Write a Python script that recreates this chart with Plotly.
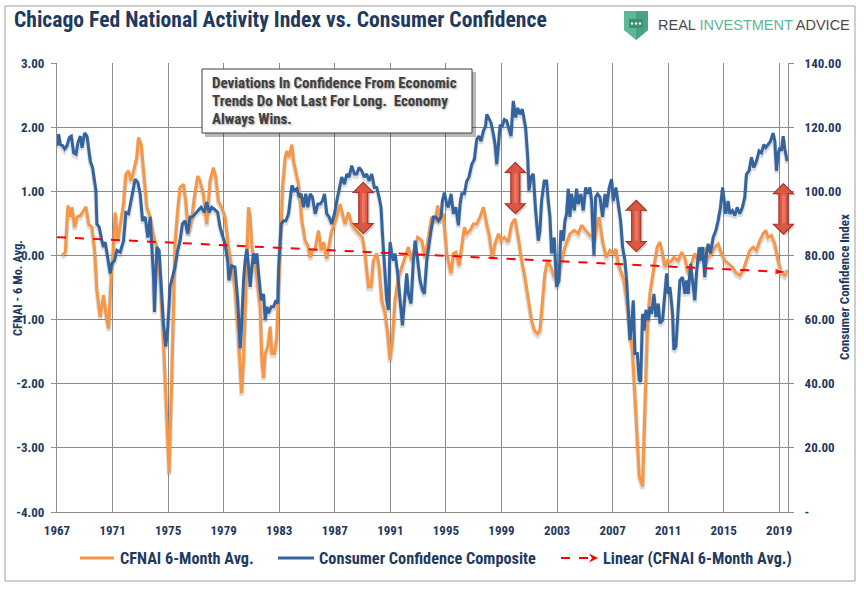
import plotly.graph_objects as go

# ---------------- data ----------------
cfnai_years = [
    1967.36, 1967.60, 1967.79, 1967.96, 1968.08, 1968.27, 1968.44, 1968.68, 1968.92, 1969.08,
    1969.28, 1969.51, 1969.71, 1969.87, 1970.11, 1970.35, 1970.52, 1970.71, 1970.90, 1971.07,
    1971.19, 1971.38, 1971.55, 1971.79, 1971.96, 1972.15, 1972.34, 1972.51, 1972.75, 1972.87,
    1973.06, 1973.23, 1973.47, 1973.71, 1973.95, 1974.19, 1974.43, 1974.66, 1974.86, 1975.07,
    1975.26, 1975.38, 1975.50, 1975.69, 1975.86, 1976.10, 1976.27, 1976.46, 1976.65, 1976.89,
    1977.13, 1977.30, 1977.54, 1977.78, 1978.02, 1978.26, 1978.43, 1978.62, 1978.86, 1979.10,
    1979.34, 1979.57, 1979.81, 1980.05, 1980.29, 1980.43, 1980.55, 1980.67, 1980.79, 1980.91,
    1981.03, 1981.22, 1981.39, 1981.63, 1981.75, 1981.87, 1981.99, 1982.18, 1982.35, 1982.47,
    1982.66, 1982.83, 1982.95, 1983.07, 1983.24, 1983.43, 1983.55, 1983.71, 1983.91, 1984.03,
    1984.19, 1984.39, 1984.51, 1984.63, 1984.87, 1985.06, 1985.23, 1985.39, 1985.59, 1985.83,
    1986.02, 1986.19, 1986.42, 1986.62, 1986.78, 1986.98, 1987.14, 1987.38, 1987.55, 1987.74,
    1987.98, 1988.22, 1988.46, 1988.75, 1988.99, 1989.18, 1989.30, 1989.42, 1989.61, 1989.78,
    1990.02, 1990.19, 1990.38, 1990.62, 1990.81, 1990.98, 1991.15, 1991.34, 1991.58, 1991.82,
    1992.06, 1992.30, 1992.54, 1992.78, 1992.97, 1993.26, 1993.50, 1993.74, 1993.98, 1994.22,
    1994.41, 1994.58, 1994.82, 1995.06, 1995.37, 1995.54, 1995.71, 1995.95, 1996.14, 1996.33,
    1996.50, 1996.74, 1996.98, 1997.22, 1997.46, 1997.70, 1997.94, 1998.10, 1998.34, 1998.54,
    1998.78, 1998.97, 1999.21, 1999.49, 1999.73, 1999.97, 2000.21, 2000.45, 2000.69, 2000.93,
    2001.17, 2001.37, 2001.60, 2001.77, 2001.94, 2002.13, 2002.32, 2002.56, 2002.80, 2003.04,
    2003.33, 2003.57, 2003.93, 2004.24, 2004.53, 2004.77, 2005.06, 2005.37, 2005.73, 2006.02,
    2006.30, 2006.55, 2006.81, 2007.05, 2007.24, 2007.41, 2007.65, 2007.82, 2008.01, 2008.25,
    2008.44, 2008.61, 2008.78, 2008.92, 2009.16, 2009.28, 2009.40, 2009.52, 2009.69, 2009.88,
    2010.05, 2010.21, 2010.41, 2010.60, 2010.77, 2010.96, 2011.17, 2011.41, 2011.73, 2011.97,
    2012.20, 2012.45, 2012.68, 2012.92, 2013.16, 2013.40, 2013.64, 2013.88, 2014.12, 2014.36,
    2014.60, 2014.84, 2015.08, 2015.32, 2015.63, 2015.92, 2016.16, 2016.40, 2016.64, 2016.88,
    2017.12, 2017.36, 2017.60, 2017.84, 2018.03, 2018.20, 2018.44, 2018.68, 2018.92, 2019.16,
    2019.40, 2019.57,
]
cfnai_values = [
    0.00, 0.05, 0.78, 0.60, 0.75, 0.44, 0.60, 0.62, 0.70, 0.76,
    0.49, 0.44, 0.08, -0.54, -0.96, -0.62, -0.90, -1.14, -0.34, 0.13,
    0.67, 0.23, 0.47, 0.80, 1.27, 1.32, 1.16, 1.32, 1.53, 1.84,
    1.73, 1.32, 0.75, 0.60, 0.31, 0.13, -0.34, -1.32, -2.40, -3.39,
    -1.94, -0.60, 0.18, 0.70, 1.06, 1.11, 0.85, 0.34, 0.49, 0.90,
    1.24, 1.16, 0.96, 0.49, 1.16, 1.37, 1.22, 0.85, 0.75, 0.60,
    0.13, -0.18, -0.49, -1.22, -2.15, -1.63, -0.90, -0.08, 0.75, 0.60,
    0.13, -0.08, -0.34, -0.80, -1.63, -1.91, -1.53, -1.42, -1.11, -1.53,
    -1.53, -1.27, -0.49, 0.28, 1.06, 1.53, 1.63, 1.53, 1.73, 1.47,
    1.32, 1.11, 0.85, 0.54, 0.23, 0.16, -0.03, 0.08, 0.10, 0.39,
    0.08, 0.21, -0.05, 0.23, 0.39, 0.49, 0.60, 0.80, 0.65, 0.49,
    0.67, 0.49, 0.41, 0.34, 0.28, 0.03, -0.28, -0.49, -0.49, -0.08,
    0.03, -0.18, -0.70, -0.90, -1.22, -1.63, -1.32, -0.70, -0.34, -0.18,
    -0.03, 0.13, -0.08, 0.13, 0.28, 0.23, -0.03, 0.28, 0.60, 0.54,
    0.78, 0.54, 0.65, 0.03, -0.28, 0.03, 0.05, -0.16, 0.13, 0.44,
    0.34, 0.39, 0.49, 0.49, 0.60, 0.75, 0.49, 0.34, -0.03, 0.18,
    0.34, 0.23, 0.28, 0.21, 0.49, 0.57, 0.28, -0.08, -0.34, -0.70,
    -1.01, -1.17, -1.22, -1.17, -0.80, -0.28, -0.08, -0.18, -0.34, -0.39,
    -0.08, 0.13, 0.34, 0.39, 0.34, 0.47, 0.39, 0.31, 0.28, 0.60,
    0.20, -0.03, 0.08, 0.03, 0.10, -0.13, -0.28, -0.39, -0.70, -1.11,
    -1.53, -2.15, -2.92, -3.44, -3.60, -2.67, -1.63, -1.06, -0.60, -0.28,
    -0.08, 0.13, 0.21, 0.03, -0.18, -0.08, -0.10, -0.03, -0.08, 0.05,
    -0.03, -0.28, -0.13, 0.03, -0.08, 0.05, 0.10, -0.03, 0.03, 0.13,
    0.18, 0.03, -0.08, -0.13, -0.18, -0.28, -0.31, -0.23, -0.08, 0.08,
    0.13, 0.08, 0.23, 0.34, 0.39, 0.28, 0.31, 0.18, -0.08, -0.28,
    -0.31, -0.23,
]

cc_years = [
    1967.00, 1967.12, 1967.24, 1967.41, 1967.55, 1967.72, 1967.89, 1968.03, 1968.20, 1968.37,
    1968.51, 1968.68, 1968.80, 1968.99, 1969.16, 1969.28, 1969.40, 1969.56, 1969.71, 1969.80,
    1969.87, 1970.04, 1970.23, 1970.35, 1970.47, 1970.66, 1970.83, 1970.95, 1971.14, 1971.31,
    1971.55, 1971.79, 1971.96, 1972.15, 1972.34, 1972.51, 1972.63, 1972.82, 1972.99, 1973.16,
    1973.35, 1973.54, 1973.71, 1973.83, 1973.95, 1974.02, 1974.19, 1974.35, 1974.50, 1974.66,
    1974.83, 1974.98, 1975.14, 1975.31, 1975.50, 1975.69, 1975.86, 1976.03, 1976.22, 1976.41,
    1976.58, 1976.75, 1976.94, 1977.13, 1977.37, 1977.61, 1977.78, 1977.95, 1978.14, 1978.33,
    1978.57, 1978.74, 1978.90, 1979.10, 1979.29, 1979.38, 1979.57, 1979.81, 1980.01, 1980.19,
    1980.31, 1980.43, 1980.55, 1980.67, 1980.79, 1980.91, 1981.03, 1981.15, 1981.27, 1981.39,
    1981.51, 1981.70, 1981.87, 1981.99, 1982.11, 1982.23, 1982.42, 1982.59, 1982.76, 1982.90,
    1982.96, 1983.14, 1983.31, 1983.48, 1983.67, 1983.79, 1983.91, 1984.10, 1984.27, 1984.43,
    1984.58, 1984.75, 1984.91, 1985.06, 1985.23, 1985.39, 1985.59, 1985.78, 1985.95, 1986.11,
    1986.26, 1986.42, 1986.59, 1986.78, 1986.98, 1987.14, 1987.31, 1987.50, 1987.70, 1987.86,
    1988.03, 1988.22, 1988.42, 1988.58, 1988.75, 1988.94, 1989.13, 1989.30, 1989.47, 1989.66,
    1989.85, 1990.02, 1990.19, 1990.33, 1990.43, 1990.57, 1990.74, 1990.86, 1990.98, 1991.10,
    1991.22, 1991.34, 1991.53, 1991.70, 1991.87, 1992.06, 1992.18, 1992.30, 1992.49, 1992.66,
    1992.78, 1992.97, 1993.14, 1993.31, 1993.45, 1993.62, 1993.74, 1993.93, 1994.10, 1994.27,
    1994.46, 1994.65, 1994.75, 1994.89, 1995.06, 1995.18, 1995.37, 1995.54, 1995.71, 1995.90,
    1996.02, 1996.14, 1996.33, 1996.50, 1996.66, 1996.86, 1997.05, 1997.22, 1997.38, 1997.53,
    1997.70, 1997.86, 1997.94, 1998.10, 1998.25, 1998.42, 1998.54, 1998.66, 1998.78, 1998.90,
    1999.06, 1999.21, 1999.37, 1999.54, 1999.69, 1999.85, 2000.02, 2000.17, 2000.33, 2000.50,
    2000.65, 2000.74, 2000.89, 2000.98, 2001.13, 2001.29, 2001.46, 2001.65, 2001.77, 2001.89,
    2002.08, 2002.25, 2002.37, 2002.49, 2002.61, 2002.80, 2002.97, 2003.14, 2003.28, 2003.45,
    2003.57, 2003.69, 2003.81, 2003.93, 2004.05, 2004.24, 2004.41, 2004.53, 2004.72, 2004.89,
    2005.06, 2005.20, 2005.37, 2005.49, 2005.66, 2005.78, 2005.92, 2006.09, 2006.28, 2006.45,
    2006.57, 2006.76, 2006.93, 2007.05, 2007.24, 2007.41, 2007.58, 2007.72, 2007.89, 2008.01,
    2008.13, 2008.25, 2008.37, 2008.49, 2008.61, 2008.78, 2008.92, 2009.02, 2009.16, 2009.28,
    2009.40, 2009.57, 2009.69, 2009.81, 2009.98, 2010.12, 2010.29, 2010.41, 2010.60, 2010.77,
    2010.89, 2011.01, 2011.13, 2011.32, 2011.41, 2011.56, 2011.73, 2011.85, 2012.04, 2012.21,
    2012.33, 2012.45, 2012.61, 2012.76, 2012.92, 2013.04, 2013.24, 2013.33, 2013.48, 2013.64,
    2013.76, 2013.88, 2014.05, 2014.24, 2014.44, 2014.60, 2014.77, 2014.92, 2015.01, 2015.15,
    2015.32, 2015.44, 2015.63, 2015.80, 2015.97, 2016.16, 2016.35, 2016.52, 2016.64, 2016.83,
    2017.00, 2017.17, 2017.36, 2017.55, 2017.72, 2017.89, 2018.03, 2018.20, 2018.37, 2018.56,
    2018.68, 2018.80, 2018.92, 2019.04, 2019.16, 2019.28, 2019.40, 2019.57,
]
cc_values = [
    114.2, 117.8, 114.6, 114.2, 113.2, 114.2, 116.8, 117.2, 112.0, 111.6,
    115.2, 117.2, 113.6, 118.2, 117.2, 113.6, 109.4, 107.4, 103.2, 100.2,
    89.8, 88.8, 84.6, 82.6, 84.2, 79.4, 74.4, 77.4, 78.4, 81.6,
    81.0, 84.6, 93.4, 93.0, 97.0, 100.2, 103.8, 102.8, 99.2, 90.8,
    92.0, 85.6, 92.0, 82.6, 73.2, 62.4, 82.6, 81.6, 70.2, 58.8,
    51.6, 57.8, 70.2, 73.2, 76.4, 81.6, 84.6, 89.8, 90.8, 86.8,
    92.0, 92.0, 93.0, 94.0, 95.0, 93.4, 96.6, 93.4, 95.0, 94.4,
    93.4, 88.8, 86.8, 83.6, 78.4, 72.2, 76.8, 76.4, 66.0, 51.0,
    59.8, 72.2, 78.4, 82.0, 76.4, 70.2, 76.4, 80.6, 77.4, 80.6,
    74.4, 66.0, 68.0, 59.8, 64.0, 62.0, 64.0, 64.0, 66.0, 65.0,
    76.4, 89.8, 90.8, 90.8, 93.0, 98.2, 101.8, 100.2, 100.8, 98.2,
    99.2, 95.0, 99.2, 95.0, 99.2, 98.2, 93.0, 96.0, 96.0, 97.0,
    99.2, 93.0, 92.0, 89.8, 93.0, 97.0, 100.2, 104.4, 102.2, 105.4,
    104.4, 108.0, 105.4, 105.4, 107.4, 106.4, 104.4, 105.4, 103.2, 105.4,
    101.2, 101.2, 98.2, 95.0, 86.8, 76.4, 66.0, 63.0, 84.2, 80.6,
    78.4, 80.6, 74.4, 66.0, 58.2, 68.0, 74.4, 68.0, 65.0, 78.4,
    84.6, 78.4, 72.2, 69.2, 68.0, 78.4, 82.6, 87.8, 92.0, 92.0,
    90.8, 92.0, 97.0, 99.6, 96.0, 95.0, 99.2, 93.0, 95.0, 89.4,
    96.0, 99.2, 99.2, 103.2, 104.4, 108.4, 110.0, 116.2, 117.2, 115.6,
    118.8, 120.4, 124.0, 122.4, 121.4, 117.8, 114.6, 108.4, 115.6, 120.4,
    120.4, 122.4, 122.0, 119.8, 117.2, 128.2, 123.0, 126.0, 124.0, 125.6,
    122.0, 119.8, 110.6, 100.2, 104.4, 105.4, 94.0, 84.6, 87.8, 97.0,
    103.2, 103.2, 97.0, 92.0, 80.6, 85.6, 70.2, 72.2, 87.8, 84.6,
    90.8, 93.0, 100.8, 92.0, 99.2, 94.0, 100.8, 96.0, 99.2, 94.0,
    101.2, 99.2, 101.2, 97.0, 80.0, 98.2, 99.2, 98.2, 92.0, 99.2,
    95.0, 101.2, 103.8, 97.0, 101.2, 96.0, 90.8, 82.6, 78.4, 72.2,
    61.8, 53.6, 57.8, 66.0, 49.4, 49.4, 41.2, 40.6, 61.8, 56.6,
    63.0, 59.8, 64.0, 61.8, 68.0, 60.8, 65.0, 58.8, 59.8, 68.0,
    74.4, 68.0, 70.2, 61.8, 50.6, 51.6, 61.8, 72.2, 73.2, 68.0,
    72.2, 68.0, 77.4, 72.2, 66.0, 74.4, 82.6, 78.4, 82.6, 73.2,
    80.6, 83.6, 80.6, 85.6, 87.8, 90.8, 95.0, 101.2, 98.2, 93.0,
    97.0, 93.0, 94.0, 92.4, 95.0, 93.0, 95.0, 98.2, 105.4, 106.4,
    110.6, 107.4, 109.4, 112.6, 112.0, 114.6, 113.6, 114.6, 115.6, 118.2,
    115.6, 106.4, 111.6, 113.6, 112.6, 117.2, 113.2, 109.4,
]
assert len(cfnai_years) == len(cfnai_values)
assert len(cc_years) == len(cc_values)

# linear trend of the CFNAI series (end points)
trend_years = [1967.0, 2019.5]
trend_values = [0.285, -0.26]

x_tick_years = list(range(1967, 2020, 4))
x_tick_labels = [str(y) for y in x_tick_years]
left_tick_vals = [3, 2, 1, 0, -1, -2, -3, -4]
left_tick_text = ["3.00", "2.00", "1.00", "0.00", "-1.00", "-2.00", "-3.00", "-4.00"]
right_tick_vals = [0, 20, 40, 60, 80, 100, 120, 140]
right_tick_text = ["-", "20.00", "40.00", "60.00", "80.00", "100.00", "120.00", "140.00"]

series_names = ["CFNAI 6-Month Avg.", "Consumer Confidence Composite",
                "Linear (CFNAI 6-Month Avg.)"]

# red double-arrow call-outs (year, top value, bottom value on left axis)
callout_years = [1989.05, 2000.0, 2008.7, 2019.3]
callout_top = [1.14, 1.45, 0.86, 1.12]
callout_bottom = [0.34, 0.65, 0.06, 0.33]

title_text = "Chicago Fed National Activity Index vs. Consumer Confidence"
note_lines = ["Deviations In Confidence From Economic",
              "Trends Do Not Last For Long.&nbsp; Economy",
              "Always Wins."]

# ---------------- layout geometry ----------------
W, H = 864, 590
ML, MR, MT, MB = 57, 76, 63, 78
PW, PH = W - ML - MR, H - MT - MB
X_MIN, X_MAX = 1967.0, 2019.63
Y_MIN, Y_MAX = -4.0, 3.0
R_MIN, R_MAX = 0.0, 140.0
SHADOW_PX = 2.5
dl = SHADOW_PX / PH * (Y_MAX - Y_MIN)
dr = SHADOW_PX / PH * (R_MAX - R_MIN)

FONT = "Liberation Sans Narrow, Arial Narrow, Roboto Condensed, sans-serif"
NAVY = "#1F3A60"
GRID = "#8C8C8C"
ORANGE = "#F79646"
BLUE = "#33649F"
SHADOW = "rgba(40,40,40,0.16)"


def px_x(px):
    return (px - ML) / PW


def px_y(py):
    return (H - MB - py) / PH


def yr_px(yr):
    return ML + (yr - X_MIN) / (X_MAX - X_MIN) * PW


def val_py(v):
    return MT + (Y_MAX - v) / (Y_MAX - Y_MIN) * PH


fig = go.Figure()
# soft drop shadows (same data, drawn on slightly shifted hidden axes)
fig.add_trace(go.Scatter(x=cfnai_years, y=cfnai_values, mode="lines", yaxis="y",
                         showlegend=False, hoverinfo="skip",
                         line=dict(color=SHADOW, width=4.5)))
fig.add_trace(go.Scatter(x=cc_years, y=cc_values, mode="lines", yaxis="y2",
                         showlegend=False, hoverinfo="skip",
                         line=dict(color=SHADOW, width=4.5)))
# main series
fig.add_trace(go.Scatter(x=cfnai_years, y=cfnai_values, mode="lines", yaxis="y3",
                         name=series_names[0], showlegend=False,
                         line=dict(color=ORANGE, width=3)))
fig.add_trace(go.Scatter(x=cc_years, y=cc_values, mode="lines", yaxis="y4",
                         name=series_names[1], showlegend=False,
                         line=dict(color=BLUE, width=3)))
fig.add_trace(go.Scatter(x=trend_years, y=trend_values, mode="lines", yaxis="y5",
                         name=series_names[2], showlegend=False,
                         line=dict(color="#FF0000", width=2, dash="dash")))
fig.add_trace(go.Scatter(x=trend_years, y=trend_values, mode="markers", yaxis="y5",
                         showlegend=False, hoverinfo="skip",
                         marker=dict(symbol="arrow", size=[0, 12], color="#FF0000",
                                     angleref="previous")))

shapes = []
# outer frame
shapes.append(dict(type="rect", xref="paper", yref="paper",
                   x0=px_x(5), x1=px_x(855), y0=px_y(581), y1=px_y(6),
                   line=dict(color="#A0A0A0", width=1), fillcolor="rgba(0,0,0,0)",
                   layer="below"))

# double arrows
hw, sw, hh = 10, 4.5, 10
for yr, top, bot in zip(callout_years, callout_top, callout_bottom):
    cx = yr_px(yr)
    t = val_py(top)
    b = val_py(bot)
    pts = [(cx, t), (cx + hw, t + hh), (cx + sw, t + hh), (cx + sw, b - hh),
           (cx + hw, b - hh), (cx, b), (cx - hw, b - hh), (cx - sw, b - hh),
           (cx - sw, t + hh), (cx - hw, t + hh)]
    path = "M " + " L ".join(f"{px_x(p[0]):.5f},{px_y(p[1]):.5f}" for p in pts) + " Z"
    shp = "M " + " L ".join(f"{px_x(p[0] + 2):.5f},{px_y(p[1] + 2):.5f}" for p in pts) + " Z"
    shapes.append(dict(type="path", xref="paper", yref="paper", path=shp,
                       fillcolor="rgba(0,0,0,0.18)", line=dict(width=0), layer="above"))
    shapes.append(dict(type="path", xref="paper", yref="paper", path=path,
                       fillcolor="#DB5643", line=dict(color="#A2362A", width=1.2),
                       layer="above"))
    # lighter highlight down the shaft
    shapes.append(dict(type="rect", xref="paper", yref="paper",
                       x0=px_x(cx - 1.5), x1=px_x(cx + 2), y0=px_y(b - hh - 1), y1=px_y(t + hh + 1),
                       fillcolor="rgba(255,140,120,0.55)", line=dict(width=0), layer="above"))

# note box with shadow
shapes.append(dict(type="rect", xref="paper", yref="paper",
                   x0=px_x(205), x1=px_x(476), y0=px_y(137), y1=px_y(72),
                   fillcolor="rgba(0,0,0,0.28)", line=dict(width=0), layer="above"))
shapes.append(dict(type="rect", xref="paper", yref="paper",
                   x0=px_x(202), x1=px_x(472), y0=px_y(133), y1=px_y(69),
                   fillcolor="white", line=dict(color="#3F3F3F", width=1), layer="above"))

# logo shield
shield = [(624, 11), (648, 11), (648, 30), (636, 40), (624, 30)]
shapes.append(dict(type="path", xref="paper", yref="paper",
                   path="M " + " L ".join(f"{px_x(a):.5f},{px_y(b):.5f}" for a, b in shield) + " Z",
                   fillcolor="#5DB795", line=dict(width=0), layer="above"))
half = [(636, 11), (648, 11), (648, 30), (636, 40)]
shapes.append(dict(type="path", xref="paper", yref="paper",
                   path="M " + " L ".join(f"{px_x(a):.5f},{px_y(b):.5f}" for a, b in half) + " Z",
                   fillcolor="#48A382", line=dict(width=0), layer="above"))
shapes.append(dict(type="rect", xref="paper", yref="paper",
                   x0=px_x(629), x1=px_x(643), y0=px_y(28), y1=px_y(19),
                   fillcolor="#3C8F70", line=dict(width=0), layer="above"))
for dx in (632, 636, 640):
    shapes.append(dict(type="circle", xref="paper", yref="paper",
                       x0=px_x(dx - 1.2), x1=px_x(dx + 1.2), y0=px_y(24.7), y1=px_y(22.3),
                       fillcolor="white", line=dict(width=0), layer="above"))

# manual legend (line samples)
LEG_Y = 558
leg_samples = [(80, 114, ORANGE, 3, "solid"), (278, 314, BLUE, 3, "solid"),
               (561, 593, "#FF0000", 2, "dash")]
for x0, x1, col, wd, ds in leg_samples:
    shapes.append(dict(type="line", xref="paper", yref="paper",
                       x0=px_x(x0), x1=px_x(x1), y0=px_y(LEG_Y), y1=px_y(LEG_Y),
                       line=dict(color=col, width=wd, dash=ds)))
ah = [(598, LEG_Y), (589, LEG_Y - 4.5), (592, LEG_Y), (589, LEG_Y + 4.5)]
shapes.append(dict(type="path", xref="paper", yref="paper",
                   path="M " + " L ".join(f"{px_x(a):.5f},{px_y(b):.5f}" for a, b in ah) + " Z",
                   fillcolor="#FF0000", line=dict(width=0)))

leg_text_x = [118, 317, 601]
annotations = []
for name, tx in zip(series_names, leg_text_x):
    annotations.append(dict(text=name, xref="paper", yref="paper", x=px_x(tx), y=px_y(LEG_Y),
                            xanchor="left", yanchor="middle", showarrow=False,
                            font=dict(family=FONT, size=16.3, color=NAVY, weight="bold")))

annotations += [
    dict(text=title_text, xref="paper", yref="paper", x=px_x(12), y=px_y(20),
         xanchor="left", yanchor="middle", showarrow=False,
         font=dict(family=FONT, size=21.6, color="#22395E", weight="bold")),
    dict(text=("<span style='color:#4A4A4A'>REAL </span>"
               "<span style='color:#5BB597'>INVESTMENT </span>"
               "<span style='color:#4A4A4A'>ADVICE</span>"),
         xref="paper", yref="paper", x=px_x(656), y=px_y(25),
         xanchor="left", yanchor="middle", showarrow=False,
         font=dict(family="Liberation Sans, Arial, sans-serif", size=14.5)),
    dict(text="CFNAI - 6 Mo. Avg.", xref="paper", yref="paper", x=px_x(17), y=px_y(288),
         xanchor="center", yanchor="middle", textangle=-90, showarrow=False,
         font=dict(family=FONT, size=12.5, color=NAVY, weight="bold")),
    dict(text="Consumer Confidence Index", xref="paper", yref="paper", x=px_x(844), y=px_y(287),
         xanchor="center", yanchor="middle", textangle=-90, showarrow=False,
         font=dict(family=FONT, size=13, color=NAVY, weight="bold")),
]
for i, line in enumerate(note_lines):
    annotations.append(dict(text=line, xref="paper", yref="paper", x=px_x(210),
                            y=px_y(83 + 18 * i), xanchor="left", yanchor="middle",
                            showarrow=False,
                            font=dict(family=FONT, size=15, color="#404040", weight="bold",
                                      shadow="1px 1px 2px rgba(0,0,0,0.35)")))

tickfont = dict(family=FONT, size=13, color=NAVY, weight="bold")
hidden = dict(visible=False, showgrid=False, zeroline=False, overlaying="y")

fig.update_layout(
    width=W, height=H,
    margin=dict(l=ML, r=MR, t=MT, b=MB, autoexpand=False),
    paper_bgcolor="white", plot_bgcolor="white",
    showlegend=False,
    hovermode=False,
    xaxis=dict(range=[X_MIN, X_MAX], tickmode="array", tickvals=x_tick_years,
               ticktext=x_tick_labels, showgrid=True, gridcolor=GRID, gridwidth=1,
               zeroline=False, showline=True, linecolor=GRID, linewidth=1,
               ticks="", tickfont=tickfont, ticklabelstandoff=6),
    # hidden base axis carrying the shifted orange shadow
    yaxis=dict(range=[Y_MIN + dl, Y_MAX + dl], visible=False, showgrid=False, zeroline=False),
    yaxis2=dict(range=[R_MIN + dr, R_MAX + dr], **hidden),
    yaxis3=dict(range=[Y_MIN, Y_MAX], overlaying="y", side="left", tickmode="array",
                tickvals=left_tick_vals, ticktext=left_tick_text, showgrid=True,
                gridcolor=GRID, gridwidth=1, zeroline=False, showline=True,
                linecolor=GRID, linewidth=1, ticks="outside", ticklen=5, tickcolor=GRID,
                tickfont=tickfont, ticklabelstandoff=4),
    yaxis4=dict(range=[R_MIN, R_MAX], overlaying="y", side="right", tickmode="array",
                tickvals=right_tick_vals, ticktext=right_tick_text, showgrid=False,
                zeroline=False, showline=True, linecolor=GRID, linewidth=1,
                ticks="outside", ticklen=5, tickcolor=GRID, tickfont=tickfont,
                ticklabelstandoff=8),
    yaxis5=dict(range=[Y_MIN, Y_MAX], **hidden),
    shapes=shapes,
    annotations=annotations,
)

fig.write_html("out.html", config={"displayModeBar": False},
               post_script="document.body.style.margin='0px';")
